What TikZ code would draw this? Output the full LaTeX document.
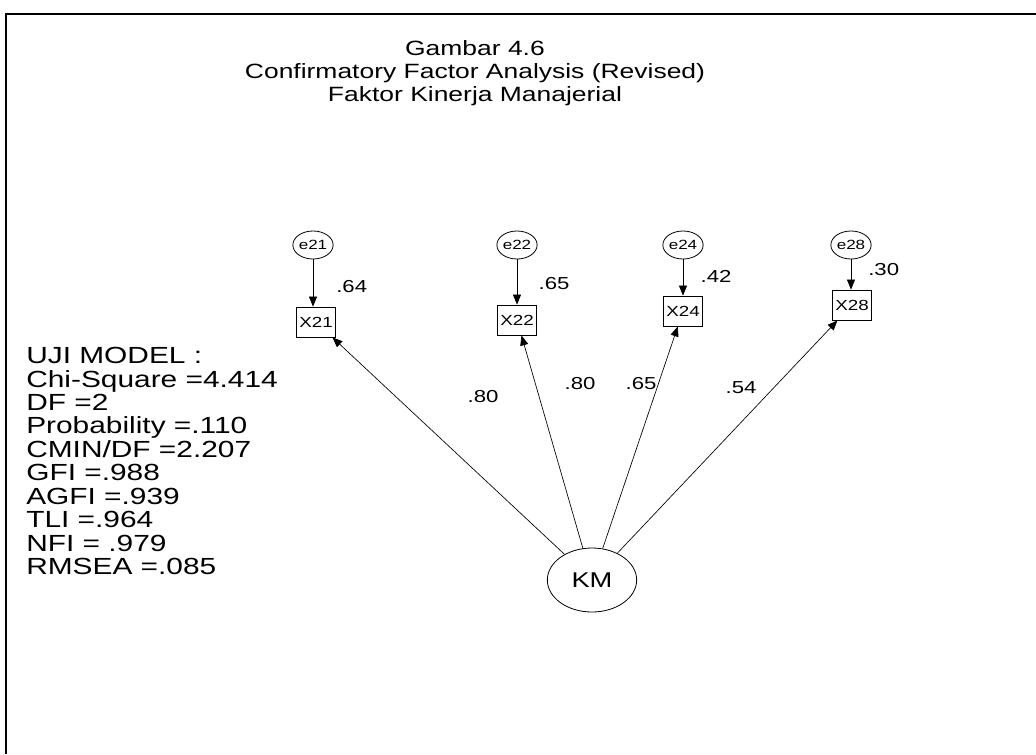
\documentclass[tikz,border=0pt]{standalone}
\usepackage{fontspec}
\newfontfamily\amosfont[FakeStretch=1.28]{Liberation Sans}
\usetikzlibrary{positioning, calc, fit, arrows.meta, shapes.geometric}

\begin{document}
\begin{tikzpicture}[x=0.75pt, y=-0.75pt,
  errvar/.style={draw, ellipse, line width=0.6pt, inner sep=0pt, minimum width=26.5pt, minimum height=21pt, font=\amosfont\fontsize{10}{10}\selectfont},
  obsvar/.style={draw, rectangle, line width=0.6pt, inner sep=0pt, minimum width=29pt, minimum height=22.5pt, font=\amosfont\fontsize{11}{11}\selectfont},
  latvar/.style={draw, ellipse, line width=0.6pt, inner sep=0pt, minimum width=67pt, minimum height=48pt, font=\amosfont\fontsize{16}{16}\selectfont},
  regpath/.style={line width=0.5pt, -{Triangle[length=7.5pt,width=6pt]}},
  lbl/.style={inner sep=0pt, font=\amosfont\fontsize{13}{13}\selectfont}
]
\useasboundingbox (0,0) rectangle (1036,754);
\draw[line width=1.2pt] (6,754) -- (6,14) -- (1036,14);

% title
\node[anchor=north, inner sep=0pt, align=center, font=\amosfont\fontsize{15.5}{17.5}\selectfont] (title) at (475,40)
  {Gambar 4.6\\Confirmatory Factor Analysis (Revised)\\Faktor Kinerja Manajerial};

% fit statistics
\node[anchor=north west, inner sep=0pt, align=left, font=\amosfont\fontsize{17.5}{17.6}\selectfont] (fit) at (26,347)
  {UJI MODEL :\\Chi-Square =4.414\\DF =2\\Probability =.110\\CMIN/DF =2.207\\GFI =.988\\AGFI =.939\\TLI =.964\\NFI = .979\\RMSEA =.085};

% latent factor
\node[latvar] (KM) at (592,580) {KM};

% indicators and errors
\node[obsvar] (X21) at (316,322) {X21};
\node[obsvar] (X22) at (517,320) {X22};
\node[obsvar] (X24) at (683,311) {X24};
\node[obsvar] (X28) at (852,305) {X28};

\node[errvar] (e21) at (313,245) {e21};
\node[errvar] (e22) at (517,245) {e22};
\node[errvar] (e24) at (683,245) {e24};
\node[errvar] (e28) at (851,245) {e28};

\draw[regpath] (e21) -- (X21.north -| e21);
\draw[regpath] (e22) -- (X22.north -| e22);
\draw[regpath] (e24) -- (X24.north -| e24);
\draw[regpath] (e28) -- (X28.north -| e28);

\node[lbl, above right=10pt and 15pt of X21.north] (r21) {.64};
\node[lbl, above right=11pt and 16pt of X22.north] (r22) {.65};
\node[lbl, above right=10pt and 13pt of X24.north] (r24) {.42};
\node[lbl, above right=10pt and 12pt of X28.north] (r28) {.30};

\draw[regpath] (KM) -- (X21);
\draw[regpath] (KM) -- (X22);
\draw[regpath] (KM) -- (X24);
\draw[regpath] (KM) -- (X28);

\node[lbl] (l21) at (483,397) {.80};
\node[lbl] (l22) at (580,384) {.80};
\node[lbl] (l24) at (641,384) {.65};
\node[lbl] (l28) at (741,388) {.54};
\end{tikzpicture}
\end{document}
